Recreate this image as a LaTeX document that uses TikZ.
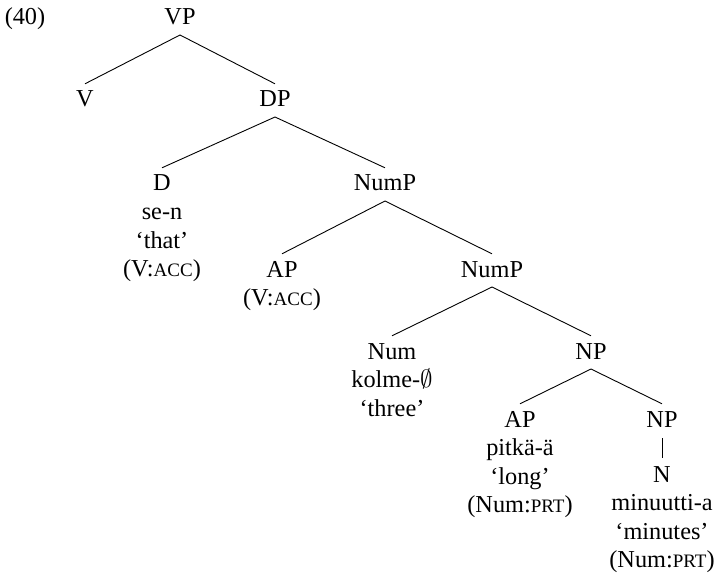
\documentclass[tikz,border=0pt]{standalone}
\usepackage{fontspec}
\setmainfont{Liberation Serif}
\newcommand\smcaps[1]{{\fontsize{19}{21}\selectfont #1}}
\begin{document}
\begin{tikzpicture}[x=1pt,y=-1pt,
  lbl/.style={anchor=base,inner sep=0pt,font=\fontsize{24.3}{28}\selectfont},
  cat/.style={lbl,text height=16pt,text depth=0pt},
  br/.style={line width=0.9pt}]
\useasboundingbox (0,0) rectangle (719,577);
\node[lbl] (ex) at (25,25) {(40)};
\node[cat] (VP) at (180,25) {VP};
\node[cat] (V) at (85,107) {V};
\node[cat] (DP) at (275,107) {DP};
\node[cat] (D) at (162,191) {D};
\node[lbl] (D1) at (162,219.5) {se-n};
\node[lbl] (D2) at (162,248) {‘that’};
\node[lbl] (D3) at (162,276.5) {(V:\smcaps{ACC})};
\node[cat] (NumP) at (385,191) {NumP};
\node[cat] (AP) at (282,277) {AP};
\node[lbl] (AP1) at (282,305.5) {(V:\smcaps{ACC})};
\node[cat] (NumPb) at (492,277) {NumP};
\node[cat] (Num) at (392,359) {Num};
\node[lbl] (Num1) at (392,387.5) {kolme-$\emptyset$};
\node[lbl] (Num2) at (392,416) {‘three’};
\node[cat] (NP) at (591,359) {NP};
\node[cat] (APb) at (520,427) {AP};
\node[lbl] (APb1) at (520,455.5) {pitkä-ä};
\node[lbl] (APb2) at (520,484) {‘long’};
\node[lbl] (APb3) at (520,512.5) {(Num:\smcaps{PRT})};
\node[cat] (NPb) at (662,427) {NP};
\node[cat] (N) at (662,482) {N};
\node[lbl] (N1) at (662,510.5) {minuutti-a};
\node[lbl] (N2) at (662,539) {‘minutes’};
\node[lbl] (N3) at (662,567.5) {(Num:\smcaps{PRT})};
\foreach \p/\c in {VP/V,VP/DP,DP/D,DP/NumP,NumP/AP,NumP/NumPb,NumPb/Num,NumPb/NP,NP/APb,NP/NPb}
  \draw[br] ([yshift=-10pt]\p.base) -- ([yshift=7pt]\c.north);
\draw[br] ([yshift=-11pt]NPb.base) -- ([yshift=8pt]N.north);
\end{tikzpicture}
\end{document}
